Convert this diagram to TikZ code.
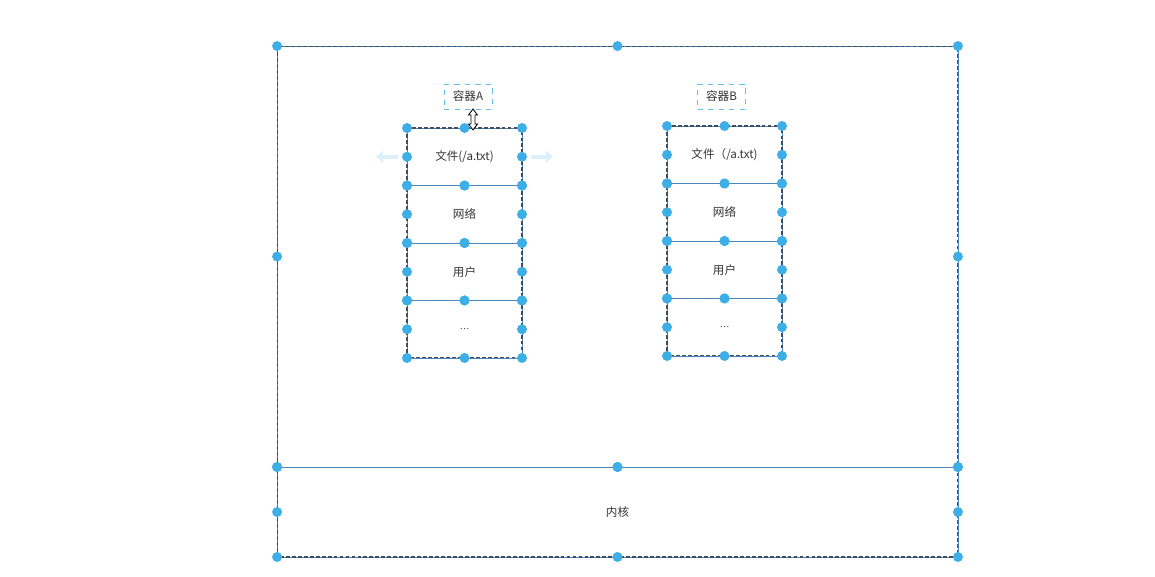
\documentclass[tikz,border=0pt]{standalone}
\usepackage{fontspec}
\newfontfamily\cjk{Noto Sans CJK SC}
\usepackage{xcolor}
\usetikzlibrary{arrows.meta, positioning, calc}
\definecolor{handle}{HTML}{3DAEE6}
\definecolor{edge}{HTML}{4A86BE}
\definecolor{selline}{HTML}{3F4E5E}

\begin{document}
\begin{tikzpicture}[x=0.02cm, y=-0.02cm, >=Stealth,
    font=\cjk\fontsize{6.6}{8}\selectfont, text=black!80,
    row/.style={draw=edge, line width=0.4pt, minimum width=2.3cm, minimum height=1.15cm, inner sep=0pt, outer sep=0pt},
    zone/.style={draw=edge, line width=0.4pt, minimum width=13.62cm, inner sep=0pt, outer sep=0pt},
    sel/.style={draw=selline, line width=0.6pt, dash pattern=on 2.2pt off 1.2pt},
    tag/.style={draw=handle!80, dashed, line width=0.4pt, minimum width=0.96cm, minimum height=0.5cm, inner sep=0pt},
    hint/.style={-{Triangle[width=7pt, length=4pt]}, line width=2.5pt, handle!18}]
  \useasboundingbox (0,0) rectangle (1155,576);
  % host and kernel
  \node[zone, minimum height=8.42cm] (host) at (617.5,256.5) {};
  \node[zone, minimum height=1.8cm] (kernel) at (617.5,512) {内核};
  \draw[sel] (host.north west) rectangle (kernel.south east);
  % container A
  \node[row] (A0) at (464.5,156.75) {文件(/a.txt)};
  \node[row, below=0pt of A0] (A1) {网络};
  \node[row, below=0pt of A1] (A2) {用户};
  \node[row, below=0pt of A2] (A3) {\fontsize{5}{6}\selectfont\textellipsis};
  % container B
  \node[row] (B0) at (724.5,154.75) {文件（/a.txt)};
  \node[row, below=0pt of B0] (B1) {网络};
  \node[row, below=0pt of B1] (B2) {用户};
  \node[row, below=0pt of B2] (B3) {\fontsize{5}{6}\selectfont\textellipsis};
  \draw[sel] (A0.north west) rectangle (A3.south east);
  \draw[sel] (B0.north west) rectangle (B3.south east);
  \node[tag] (tagA) at (468,96.5) {容器A};
  \node[tag] (tagB) at (721.5,96.5) {容器B};
  % handles
  \foreach \n in {host, kernel, A0, A1, A2, A3, B0, B1, B2, B3}
    \foreach \a in {north west, north, north east, west, east, south west, south, south east}
      \fill[handle] (\n.\a) circle (0.1cm);
  % hover arrows and cursor
  \draw[hint] (A0.west) ++(-9,0) -- ++(-22,0);
  \draw[hint] (A0.east) ++(9,0) -- ++(22,0);
  \draw[fill=white, line width=0.5pt, line join=miter]
    (473,109) -- (477.5,115) -- (475,115) -- (475,124) -- (477.5,124) -- (473,130)
    -- (468.5,124) -- (471,124) -- (471,115) -- (468.5,115) -- cycle;
\end{tikzpicture}
\end{document}
